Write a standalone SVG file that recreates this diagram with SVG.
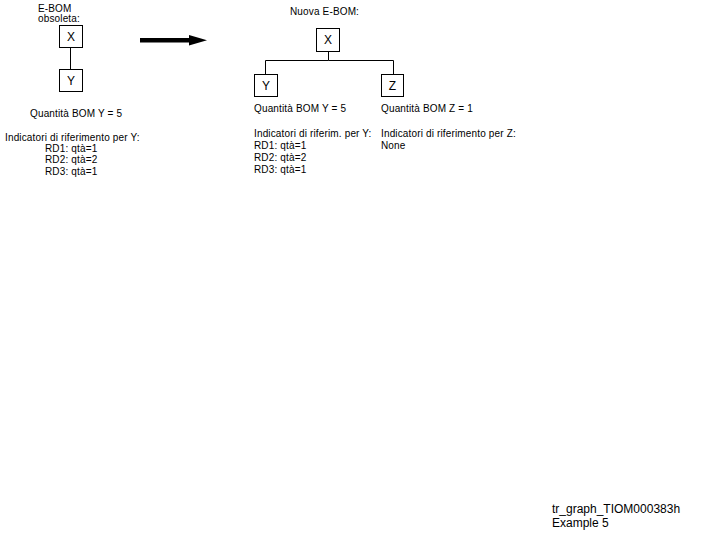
<svg xmlns="http://www.w3.org/2000/svg" width="720" height="540" viewBox="0 0 720 540">
<style>
text{font-family:"Liberation Sans",Arial,sans-serif;font-size:10px;fill:#000;letter-spacing:0.15px}
.lbl{font-size:12px;text-anchor:middle;letter-spacing:0}
.box{fill:#fff;stroke:#000;stroke-width:1}
.ln{fill:none;stroke:#000;stroke-width:1}
.ft{font-size:12px;letter-spacing:0}
</style>
<rect width="720" height="540" fill="#fff"/>
<g id="old-title"><text x="38" y="12">E-BOM</text><text x="38" y="22">obsoleta:</text></g>
<g id="connectors">
<line class="ln" x1="70.5" y1="47" x2="70.5" y2="69"/>
<polyline class="ln" points="328.5,51 328.5,60.5 265.5,60.5 265.5,74"/>
<polyline class="ln" points="328.5,60.5 393.5,60.5 393.5,74"/>
</g>
<g id="old-X"><rect class="box" x="59.5" y="25.5" width="23" height="22"/><text class="lbl" x="71" y="41">X</text></g>
<g id="old-Y"><rect class="box" x="59.5" y="69.5" width="23" height="22"/><text class="lbl" x="71" y="85">Y</text></g>
<g id="old-text">
<text x="30" y="117">Quantità BOM Y = 5</text>
<text x="5" y="141">Indicatori di riferimento per Y:</text>
<text x="45" y="152">RD1: qtà=1</text>
<text x="45" y="163">RD2: qtà=2</text>
<text x="45" y="175">RD3: qtà=1</text>
</g>
<g id="arrow"><rect x="140" y="38" width="52" height="4.5" fill="#000"/><polygon points="189,35 207,40.2 189,45.5" fill="#000"/></g>
<g id="new-title"><text x="290" y="15">Nuova E-BOM:</text></g>
<g id="new-X"><rect class="box" x="316.5" y="28.5" width="23" height="23"/><text class="lbl" x="328" y="44">X</text></g>
<g id="new-Y"><rect class="box" x="254.5" y="74.5" width="23" height="22"/><text class="lbl" x="266" y="90">Y</text></g>
<g id="new-Z"><rect class="box" x="381.5" y="74.5" width="22" height="22"/><text class="lbl" x="392.5" y="90">Z</text></g>
<g id="new-text">
<text x="254" y="112">Quantità BOM Y = 5</text>
<text x="254" y="137">Indicatori di riferim. per Y:</text>
<text x="254" y="149">RD1: qtà=1</text>
<text x="254" y="161">RD2: qtà=2</text>
<text x="254" y="173">RD3: qtà=1</text>
<text x="381" y="112">Quantità BOM Z = 1</text>
<text x="381" y="137">Indicatori di riferimento per Z:</text>
<text x="381" y="149">None</text>
</g>
<g id="footer"><text class="ft" x="552" y="513">tr_graph_TIOM000383h</text><text class="ft" x="552" y="527">Example 5</text></g>
</svg>
